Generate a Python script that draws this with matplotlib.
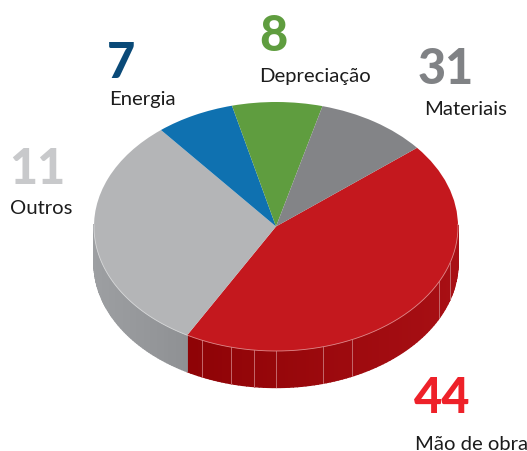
import matplotlib
matplotlib.use('Agg')
import matplotlib.pyplot as plt
import numpy as np

shares = [44, 31, 7, 8, 10]
top_colors = ['#c4181e', '#b4b5b7', '#0f71b0', '#5f9d3f', '#838487']
side_left = ['#8e0306', '#9d9fa2', '#0b5a8c', '#4b7d32', '#68696b']
side_right = ['#a80f14', '#8f9194', '#0b5a8c', '#4b7d32', '#68696b']
rim_colors = ['#e08a8c', '#d8d9da', '#0f71b0', '#5f9d3f', '#838487']

# labels sit as in the original
numbers = ['44', '31', '7', '8', '11']
names = ['Mão de obra', 'Materiais', 'Energia', 'Depreciação', 'Outros']
number_colors = ['#ee2129', '#808285', '#0a4a78', '#5f9d3f', '#c8c9cb']
number_pos = [(414, 413), (418, 84), (107, 78), (259, 51), (9, 184)]
name_pos = [(415, 450), (424, 115), (109, 105), (259, 82), (10, 214)]

seam_px = [201.7, 230.7, 254.3, 276.3, 322.7, 351.7, 439.3, 450]

start_angle = 39.2
cx, cy, rx, ry = 276, 227.5, 182, 124.5
depth = 36.5 / ry

fig = plt.figure(figsize=(5.27, 4.52), dpi=100)
ax = fig.add_axes([0, 0, 1, 1])

# wedge edges in degrees
sweeps = np.array(shares) / sum(shares) * 360
edges = start_angle - np.concatenate([[0], np.cumsum(sweeps)])


def hex_rgb(c):
    return np.array(matplotlib.colors.to_rgb(c))


# side wall, only the part of each slice facing the viewer
for i in range(len(shares)):
    t = np.radians(np.linspace(edges[i + 1], edges[i], 120))
    t = t[np.sin(t) <= 0.02]
    if len(t) < 2:
        continue
    xmin, xmax = np.cos(t).min(), np.cos(t).max()
    for a, b in zip(t[:-1], t[1:]):
        xs = [np.cos(a), np.cos(b), np.cos(b), np.cos(a)]
        ys = [np.sin(a), np.sin(b), np.sin(b) - depth, np.sin(a) - depth]
        f = ((np.cos(a) + np.cos(b)) / 2 - xmin) / max(xmax - xmin, 1e-6)
        col = hex_rgb(side_left[i]) * (1 - f) + hex_rgb(side_right[i]) * f
        ax.fill(xs, ys, facecolor=col, edgecolor=col, lw=1.0, zorder=1)

# light seams on the red wall
for px in seam_px:
    x = (px - cx) / rx
    y = -np.sqrt(1 - x ** 2)
    ax.plot([x, x], [y, y - depth], color='#c4686b', lw=0.7, zorder=2)

wedges, _ = ax.pie(shares, colors=top_colors, startangle=start_angle, counterclock=False,
                   radius=1, wedgeprops={'linewidth': 0})
for w in wedges:
    w.set_zorder(3)

# thin light rim along the front edge
for i in range(2):
    t = np.radians(np.linspace(edges[i + 1], edges[i], 200))
    t = t[np.sin(t) <= 0.02]
    ax.plot(np.cos(t), np.sin(t), color=rim_colors[i], lw=0.6, zorder=4)

ax.set_aspect('auto')
ax.set_xlim(-cx / rx, (527 - cx) / rx)
ax.set_ylim(-(452 - cy) / ry, cy / ry)
ax.axis('off')

# labels placed in pixel coordinates of the picture
to_fig = lambda p: (p[0] / 527, 1 - p[1] / 452)
for num, name, col, npos, lpos in zip(numbers, names, number_colors, number_pos, name_pos):
    fig.text(*to_fig(npos), num, color=col, fontsize=35, fontweight=900,
             family='Lato', ha='left', va='baseline')
    fig.text(*to_fig(lpos), name, color='#1c1c1c', fontsize=14.6,
             family='Lato', ha='left', va='baseline')

fig.savefig('out.png', dpi=100)
